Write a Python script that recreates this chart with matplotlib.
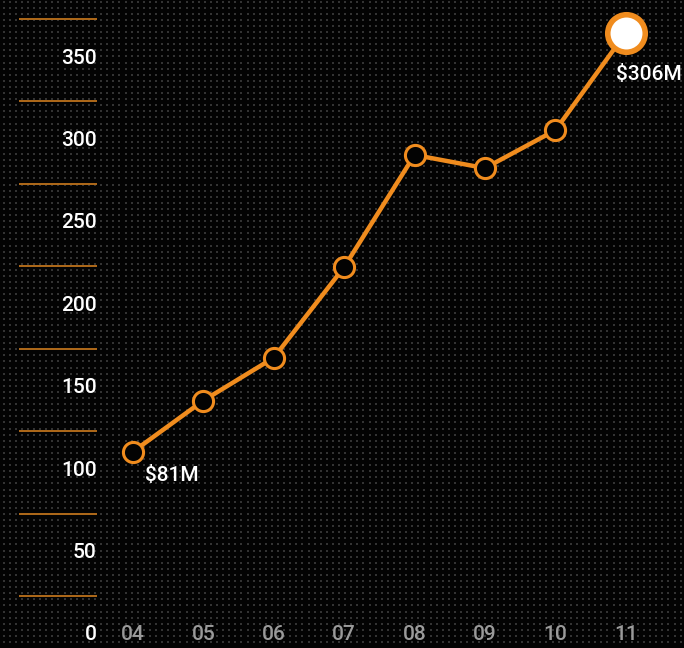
import numpy as np
import matplotlib.pyplot as plt
from matplotlib.transforms import blended_transform_factory, offset_copy

# ------------------------------------------------------------
# data
# ------------------------------------------------------------
years = ["04", "05", "06", "07", "08", "09", "10", "11"]
values = [110, 141, 167, 222, 290, 282, 305, 364]
y_ticks = [0, 50, 100, 150, 200, 250, 300, 350]
first_label = "$81M"
last_label = "$306M"

orange = "#f08c1e"
grid_orange = "#b06a1a"
bg = "#030303"

plt.rcParams["font.family"] = ["Roboto", "DejaVu Sans"]
fs = 15
fw = "medium"

fig = plt.figure(figsize=(6.84, 6.48), dpi=100, facecolor=bg)

# dotted background, in pixel coordinates
bg_ax = fig.add_axes([0, 0, 1, 1])
bg_ax.set_xlim(0, 684)
bg_ax.set_ylim(648, 0)
bg_ax.axis("off")
gx, gy = np.meshgrid(np.arange(3.5, 684, 6.1), np.arange(1.5, 648, 6.1))
bg_ax.scatter(gx.ravel(), gy.ravel(), s=1.3, marker="s", color="#333333",
              linewidths=0)

# main axes covering the whole figure
ax = fig.add_axes([0, 0, 1, 1])
ax.patch.set_alpha(0)
x = np.arange(len(years))
ax.set_xlim(-1.889, 7.827)
ax.set_ylim(-9.1, 384.0)
ax.axis("off")

# short orange rules, sitting a little above each label
trans_y = blended_transform_factory(fig.transFigure, ax.transData)
rule_trans = offset_copy(trans_y, fig=fig, x=0, y=37, units="dots")
for t in y_ticks:
    ax.plot([0.028, 0.142], [t, t], color=grid_orange, lw=1.4,
            transform=rule_trans, solid_capstyle="butt")

# y labels
for t in y_ticks:
    ax.text(0.141, t - 1.2, str(t), transform=trans_y, ha="right",
            va="center", color="white", fontsize=fs, fontweight=fw)

# x labels
trans_x = blended_transform_factory(ax.transData, fig.transFigure)
for xi, lab in zip(x, years):
    ax.text(xi, 0.021, lab, transform=trans_x, ha="center", va="center",
            color="#9a9a9a", fontsize=fs, fontweight=fw)

# line + markers
ax.plot(x, values, color=orange, lw=3.2, zorder=3, solid_joinstyle="round")
ax.plot(x[:-1], values[:-1], "o", ms=14.5, mfc=bg, mec=orange, mew=2.2,
        zorder=4)
ax.plot(x[-1], values[-1], "o", ms=27, mfc="white", mec=orange, mew=4,
        zorder=5)

# value annotations
ax.annotate(first_label, (x[0], values[0]), xytext=(9, -17),
            textcoords="offset points", ha="left", va="center",
            color="white", fontsize=fs, fontweight=fw)
ax.annotate(last_label, (x[-1], values[-1]), xytext=(-7, -30),
            textcoords="offset points", ha="left", va="center",
            color="white", fontsize=fs, fontweight=fw)

fig.savefig("out.png", dpi=100, facecolor=bg)
